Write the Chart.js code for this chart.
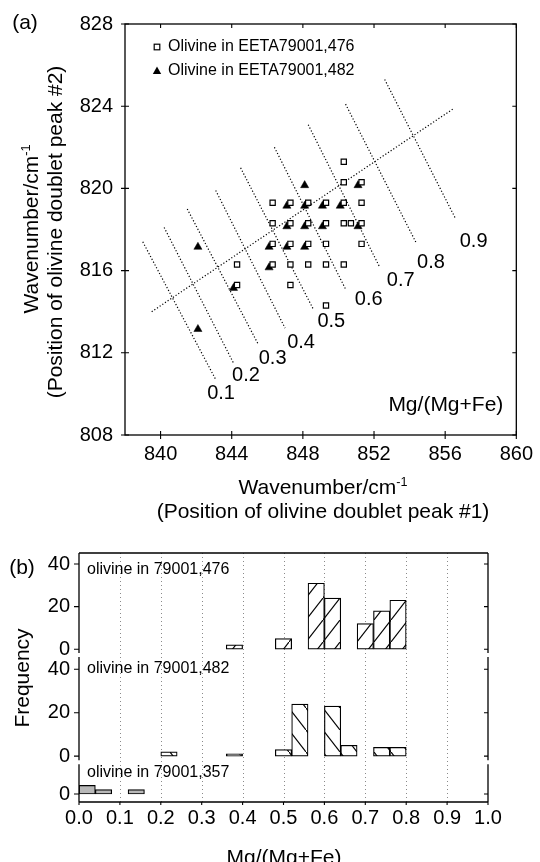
<!DOCTYPE html>
<html>
<head>
<meta charset="utf-8">
<script src="https://cdn.jsdelivr.net/npm/chart.js@4.4.0/dist/chart.umd.min.js"></script>
<style>
  body { margin: 0; background: #fff; font-family: "Liberation Sans", Arial, sans-serif; color: #000; }
  #hoja { position: relative; width: 540px; height: 862px; overflow: hidden; }
  canvas { position: absolute; left: 0; }
  #graficoA { top: 0; }
  #graficoB { top: 510px; }
  .txt { position: absolute; white-space: nowrap; font-size: 21px; line-height: 1; transform: translate(-50%, -50%); }
  .rot { transform: translate(-50%, -50%) rotate(-90deg); }
  sup { font-size: 0.6em; vertical-align: 0.6em; line-height: 0; }
</style>
</head>
<body>
<div id="hoja">
  <canvas id="graficoA" width="540" height="510"></canvas>
  <canvas id="graficoB" width="540" height="352"></canvas>

  <div class="txt" style="left:25px; top:21px">(a)</div>
  <div class="txt rot" style="left:30px; top:229px">Wavenumber/cm<sup>-1</sup></div>
  <div class="txt rot" style="left:54px; top:232px">(Position of olivine doublet peak #2)</div>
  <div class="txt" style="left:323px; top:486px">Wavenumber/cm<sup>-1</sup></div>
  <div class="txt" style="left:323px; top:510px">(Position of olivine doublet peak #1)</div>

  <div class="txt" style="left:22px; top:566px">(b)</div>
  <div class="txt rot" style="left:21px; top:678px">Frequency</div>
  <div class="txt" style="left:284px; top:856px">Mg/(Mg+Fe)</div>
</div>

<script>
//DATOS GRAFICO (a)//
const ticksXA = [840, 844, 848, 852, 856, 860];
const ticksYA = [808, 812, 816, 820, 824, 828];

// olivino EETA79001,476 (cuadrados)
const ol476X = [850.3, 850.3, 851.3,
  846.3, 847.3, 848.3, 849.3, 850.3, 851.3,
  846.3, 847.3, 848.3, 849.3, 850.3, 850.7, 851.3,
  846.3, 847.3, 848.3, 849.3, 851.3,
  844.3, 846.3, 847.3, 848.3, 849.3, 850.3,
  844.3, 847.3,
  849.3];
const ol476Y = [821.3, 820.3, 820.3,
  819.3, 819.3, 819.3, 819.3, 819.3, 819.3,
  818.3, 818.3, 818.3, 818.3, 818.3, 818.3, 818.3,
  817.3, 817.3, 817.3, 817.3, 817.3,
  816.3, 816.3, 816.3, 816.3, 816.3, 816.3,
  815.3, 815.3,
  814.3];

// olivino EETA79001,482 (triangulos)
const ol482X = [848.1, 851.1,
  847.1, 848.1, 849.1, 850.1,
  847.1, 848.1, 849.1, 851.1,
  846.1, 847.1, 848.1,
  846.1, 844.1, 842.1, 842.1];
const ol482Y = [820.15, 820.15,
  819.15, 819.15, 819.15, 819.15,
  818.15, 818.15, 818.15, 818.15,
  817.15, 817.15, 817.15,
  816.15, 815.15, 817.15, 813.15];

// lineas de Mg/(Mg+Fe) constante
const isoTexto = ['0.1', '0.2', '0.3', '0.4', '0.5', '0.6', '0.7', '0.8', '0.9'];
const isoX1 = [839.0, 840.2, 841.5, 843.1, 844.5, 846.4, 848.3, 850.4, 852.6];
const isoY1 = [817.4, 818.1, 819.0, 819.9, 821.0, 822.0, 823.1, 824.1, 825.3];
const isoX2 = [843.1, 844.1, 845.5, 847.0, 848.6, 850.4, 852.3, 854.4, 856.6];
const isoY2 = [810.7, 811.5, 812.4, 813.2, 814.1, 815.1, 816.2, 817.3, 818.5];
const isoTxtX = [843.4, 844.8, 846.3, 847.9, 849.6, 851.7, 853.5, 855.2, 857.6];
const isoTxtY = [810.0, 810.9, 811.7, 812.5, 813.5, 814.6, 815.5, 816.4, 817.4];

// recta de tendencia
const tendX = [839.5, 856.5];
const tendY = [814.0, 823.9];

//DATOS GRAFICO (b)//
const ticksXB = [0, 0.1, 0.2, 0.3, 0.4, 0.5, 0.6, 0.7, 0.8, 0.9, 1.0];
const ticksFrec = [0, 20, 40];
const ticksFrec357 = [0];
const anchoBin = 0.04;

const bin476 = [0.36, 0.48, 0.56, 0.60, 0.68, 0.72, 0.76];
const frec476 = [2, 5, 31, 24, 12, 18, 23];
const bin482 = [0.20, 0.36, 0.48, 0.52, 0.60, 0.64, 0.72, 0.76];
const frec482 = [2, 1, 3, 24, 23, 5, 4, 4];
const bin357 = [0.00, 0.04, 0.12];
const frec357 = [4, 2, 2];

const panelTexto = ['olivine in 79001,476', 'olivine in 79001,482', 'olivine in 79001,357'];

const FUENTE = '"Liberation Sans", Arial, sans-serif';

//RAYADO DE LAS BARRAS
function rayado(dir) {
  const c = document.createElement('canvas');
  c.width = 17;
  c.height = 22;
  const g = c.getContext('2d');
  g.fillStyle = '#fff';
  g.fillRect(0, 0, 17, 22);
  g.strokeStyle = '#000';
  g.lineWidth = 1.1;
  g.beginPath();
  if (dir === '/') {
    g.moveTo(-1, 23.3);
    g.lineTo(18, -1.3);
  } else {
    g.moveTo(-1, -1.3);
    g.lineTo(18, 23.3);
  }
  g.stroke();
  return g.createPattern(c, 'repeat');
}

//MARCO Y TICKS (a)
const marcoA = {
  id: 'marcoA',
  afterDraw(chart) {
    const ctx = chart.ctx;
    const a = chart.chartArea;
    const sx = chart.scales.x, sy = chart.scales.y;
    ctx.save();
    ctx.strokeStyle = '#000';
    ctx.lineWidth = 1.3;
    ctx.strokeRect(a.left, a.top, a.right - a.left, a.bottom - a.top);
    ctx.lineWidth = 1.1;
    ctx.beginPath();
    ticksXA.forEach(v => {
      const px = sx.getPixelForValue(v);
      ctx.moveTo(px, a.bottom + 4); ctx.lineTo(px, a.bottom - 4);
      ctx.moveTo(px, a.top); ctx.lineTo(px, a.top + 4);
    });
    ticksYA.forEach(v => {
      const py = sy.getPixelForValue(v);
      ctx.moveTo(a.left - 4, py); ctx.lineTo(a.left + 4, py);
      ctx.moveTo(a.right, py); ctx.lineTo(a.right - 4, py);
    });
    ctx.stroke();
    ctx.restore();
  }
};

//ETIQUETAS, LEYENDA (a)
const textosA = {
  id: 'textosA',
  afterDatasetsDraw(chart) {
    const ctx = chart.ctx;
    const a = chart.chartArea;
    const sx = chart.scales.x, sy = chart.scales.y;
    ctx.save();
    ctx.fillStyle = '#000';
    ctx.font = '20px ' + FUENTE;
    ctx.textAlign = 'center';
    ctx.textBaseline = 'middle';
    isoTexto.forEach((t, i) => {
      ctx.fillText(t, sx.getPixelForValue(isoTxtX[i]), sy.getPixelForValue(isoTxtY[i]));
    });
    ctx.font = '21px ' + FUENTE;
    ctx.textAlign = 'right';
    ctx.fillText('Mg/(Mg+Fe)', a.right - 13, a.bottom - 30);

    // leyenda
    const lx = a.left + 32;
    ctx.lineWidth = 1.2;
    ctx.strokeStyle = '#000';
    ctx.fillStyle = '#fff';
    ctx.fillRect(lx - 2.8, a.top + 23 - 2.8, 5.6, 5.6);
    ctx.strokeRect(lx - 2.8, a.top + 23 - 2.8, 5.6, 5.6);
    ctx.fillStyle = '#000';
    ctx.beginPath();
    ctx.moveTo(lx, a.top + 47 - 4.4);
    ctx.lineTo(lx + 4.2, a.top + 47 + 3);
    ctx.lineTo(lx - 4.2, a.top + 47 + 3);
    ctx.closePath();
    ctx.fill();
    ctx.font = '16px ' + FUENTE;
    ctx.textAlign = 'left';
    ctx.fillText('Olivine in EETA79001,476', lx + 11, a.top + 23);
    ctx.fillText('Olivine in EETA79001,482', lx + 11, a.top + 47);
    ctx.restore();
  }
};

const puntos = (xs, ys) => xs.map((x, i) => ({ x: x, y: ys[i] }));

const lineasIso = isoTexto.map((t, i) => ({
  label: 'Mg/(Mg+Fe) ' + t,
  data: [{ x: isoX1[i], y: isoY1[i] }, { x: isoX2[i], y: isoY2[i] }],
  showLine: true,
  borderColor: '#000',
  borderWidth: 1.2,
  borderDash: [1.2, 2],
  pointRadius: 0,
  order: 5
}));

const chartA = new Chart(document.getElementById('graficoA'), {
  type: 'scatter',
  data: {
    datasets: [
      {
        label: 'Olivine in EETA79001,476',
        data: puntos(ol476X, ol476Y),
        pointStyle: 'rect',
        pointRadius: 3.7,
        pointBackgroundColor: '#fff',
        pointBorderColor: '#000',
        pointBorderWidth: 1.2,
        order: 0
      },
      {
        label: 'Olivine in EETA79001,482',
        data: puntos(ol482X, ol482Y),
        pointStyle: 'triangle',
        pointRadius: 4.7,
        pointBackgroundColor: '#000',
        pointBorderColor: '#000',
        pointBorderWidth: 0.5,
        order: 1
      },
      {
        label: 'tendencia',
        data: puntos(tendX, tendY),
        showLine: true,
        borderColor: '#000',
        borderWidth: 1.2,
        borderDash: [1.2, 2],
        pointRadius: 0,
        order: 5
      },
      ...lineasIso
    ]
  },
  options: {
    responsive: false,
    animation: false,
    devicePixelRatio: 1,
    layout: { padding: { top: 21, right: 18, left: 0, bottom: 0 } },
    plugins: { legend: { display: false }, tooltip: { enabled: false } },
    scales: {
      x: {
        type: 'linear', min: 838, max: 860,
        afterBuildTicks: s => { s.ticks = ticksXA.map(v => ({ value: v })); },
        afterFit: s => { s.height = 75; },
        grid: { display: false, drawTicks: false },
        border: { display: false },
        ticks: { color: '#000', padding: 7, font: { family: FUENTE, size: 20 } }
      },
      y: {
        type: 'linear', min: 808, max: 828,
        afterBuildTicks: s => { s.ticks = ticksYA.map(v => ({ value: v })); },
        afterFit: s => { s.width = 125; },
        grid: { display: false, drawTicks: false },
        border: { display: false },
        ticks: { color: '#000', padding: 12, font: { family: FUENTE, size: 20 } }
      }
    }
  },
  plugins: [textosA, marcoA]
});

//GRAFICO (b)
// de arriba hacia abajo
const ejesB = ['y476', 'y482', 'y357'];

const rejillaB = {
  id: 'rejillaB',
  beforeDatasetsDraw(chart) {
    const ctx = chart.ctx;
    const a = chart.chartArea;
    const sx = chart.scales.x;
    ctx.save();
    ctx.strokeStyle = '#8a8a8a';
    ctx.lineWidth = 1;
    ctx.setLineDash([1, 3]);
    ctx.beginPath();
    ticksXB.slice(1, -1).forEach(v => {
      const px = Math.round(sx.getPixelForValue(v)) + 0.5;
      ctx.moveTo(px, a.top);
      ctx.lineTo(px, a.bottom);
    });
    ctx.stroke();
    ctx.restore();
  }
};

const marcoB = {
  id: 'marcoB',
  afterDraw(chart) {
    const ctx = chart.ctx;
    const a = chart.chartArea;
    const sx = chart.scales.x;
    ctx.save();
    ctx.strokeStyle = '#000';
    ctx.lineWidth = 1.3;
    ctx.beginPath();
    ctx.moveTo(a.left, a.top); ctx.lineTo(a.right, a.top);
    ctx.moveTo(a.left, a.bottom); ctx.lineTo(a.right, a.bottom);
    ejesB.forEach((id, k) => {
      const s = chart.scales[id];
      const t = k === 0 ? s.top : s.top + 2;
      const b = k === ejesB.length - 1 ? s.bottom : s.bottom - 2;
      ctx.moveTo(a.left, t); ctx.lineTo(a.left, b);
      ctx.moveTo(a.right, t); ctx.lineTo(a.right, b);
    });
    ctx.stroke();
    ctx.lineWidth = 1.1;
    ctx.beginPath();
    ejesB.forEach(id => {
      const s = chart.scales[id];
      s.ticks.forEach(tk => {
        const py = s.getPixelForValue(tk.value);
        ctx.moveTo(a.left - 5, py); ctx.lineTo(a.left, py);
        ctx.moveTo(a.right, py); ctx.lineTo(a.right - 4, py);
      });
    });
    ticksXB.forEach(v => {
      const px = sx.getPixelForValue(v);
      ctx.moveTo(px, a.bottom); ctx.lineTo(px, a.bottom + 3);
    });
    ctx.stroke();

    // nombre de cada muestra
    ctx.fillStyle = '#000';
    ctx.font = '16px ' + FUENTE;
    ctx.textAlign = 'left';
    ctx.textBaseline = 'middle';
    const desp = [17, 14, 10];
    ejesB.forEach((id, k) => {
      ctx.fillText(panelTexto[k], a.left + 8, chart.scales[id].top + desp[k]);
    });
    ctx.restore();
  }
};

const barras = (bins, frec) => bins.map((b, i) => ({ x: b + anchoBin / 2, y: frec[i] }));

const estiloBarra = {
  borderColor: '#000',
  borderWidth: 1.2,
  borderSkipped: false,
  grouped: false,
  barPercentage: 1,
  categoryPercentage: 1
};

const ejeFrec = (min, max, peso, ticks) => ({
  type: 'linear',
  position: 'left',
  stack: 'frecuencia',
  stackWeight: peso,
  min: min,
  max: max,
  offset: false,
  afterBuildTicks: s => { s.ticks = ticks.map(v => ({ value: v })); },
  afterFit: s => { s.width = 79; },
  grid: { display: false, drawTicks: false },
  border: { display: false },
  ticks: { color: '#000', padding: 9, font: { family: FUENTE, size: 20 } }
});

const chartB = new Chart(document.getElementById('graficoB'), {
  type: 'bar',
  data: {
    datasets: [
      { label: panelTexto[0], data: barras(bin476, frec476), yAxisID: 'y476', backgroundColor: rayado('/'), ...estiloBarra },
      { label: panelTexto[1], data: barras(bin482, frec482), yAxisID: 'y482', backgroundColor: rayado('\\'), ...estiloBarra },
      { label: panelTexto[2], data: barras(bin357, frec357), yAxisID: 'y357', backgroundColor: '#b8b8b8', ...estiloBarra }
    ]
  },
  options: {
    responsive: false,
    animation: false,
    devicePixelRatio: 1,
    layout: { padding: { top: 43, right: 52, left: 0, bottom: 0 } },
    plugins: { legend: { display: false }, tooltip: { enabled: false } },
    scales: {
      x: {
        type: 'linear', min: 0, max: 1, offset: false,
        afterBuildTicks: s => { s.ticks = ticksXB.map(v => ({ value: v })); },
        afterFit: s => { s.height = 60; },
        grid: { display: false, drawTicks: false },
        border: { display: false },
        ticks: { color: '#000', padding: 4, font: { family: FUENTE, size: 20 }, callback: v => v.toFixed(1) }
      },
      // las escalas apiladas se colocan de abajo hacia arriba
      y357: ejeFrec(-3.7, 14.7, 39.7, ticksFrec357),
      y482: ejeFrec(-2.8, 46.6, 107, ticksFrec),
      y476: ejeFrec(-2.7, 45.2, 101.7, ticksFrec)
    }
  },
  plugins: [rejillaB, marcoB]
});
</script>
</body>
</html>
